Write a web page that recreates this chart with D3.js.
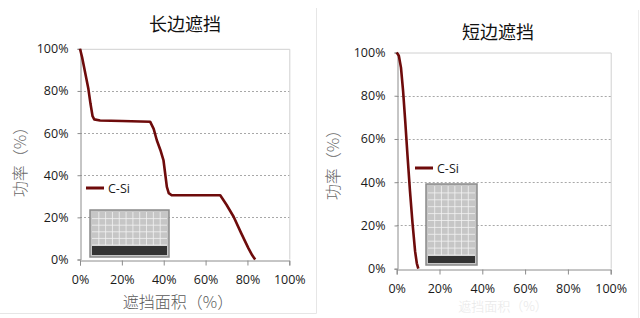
<!DOCTYPE html>
<html>
<head>
<meta charset="utf-8">
<script src="https://cdn.jsdelivr.net/npm/d3@7"></script>
<style>
  body { margin: 0; background: #fff; }
  svg { display: block; }
</style>
</head>
<body>
<svg id="chart" width="640" height="318"></svg>
<script>
// data (x = 遮挡面积 %, y = 功率 %)
var longX = [0, 1, 2, 3, 4, 5, 6, 6.8, 9.6, 20, 33.5, 35.2, 36.7, 38.4, 39.9, 40.8, 41.5, 42.4, 43.8, 55, 67, 70, 73.4, 77, 80.5, 82.3, 83.7]
var longY = [100, 96, 91, 86, 81, 74, 68, 66.5, 66, 65.7, 65.4, 62, 56.6, 52, 47, 40, 34.5, 31.5, 30.5, 30.5, 30.5, 26, 20.3, 12.5, 5.3, 2, 0]
var shortX = [0, 1, 2, 3, 4, 5, 6.2, 7.4, 8.6, 9.4, 10.1]
var shortY = [100, 98.5, 93, 82, 68, 53, 36, 21, 8, 2.5, 0]
var xTicks = [0, 20, 40, 60, 80, 100]
var yTicks = [0, 20, 40, 60, 80, 100]
var titles = ["长边遮挡", "短边遮挡"]
var seriesName = "C-Si"

var svg = d3.select("#chart")

// faint outer frames of the two pasted charts
svg.append("line").attr("x1", 316.5).attr("x2", 316.5).attr("y1", 8).attr("y2", 313.5)
    .attr("stroke", "#e6e6e6")
svg.append("line").attr("x1", 0).attr("x2", 316.5).attr("y1", 313.5).attr("y2", 313.5)
    .attr("stroke", "#e6e6e6")
svg.append("line").attr("x1", 638.5).attr("x2", 638.5).attr("y1", 10).attr("y2", 318)
    .attr("stroke", "#ececec")

function drawChart(opt) {
    var xs = d3.scaleLinear().domain([0, 100]).range([opt.x0, opt.x1])
    var ys = d3.scaleLinear().domain([0, 100]).range([opt.y0, opt.y1])
    var g = svg.append("g")

    // plot frame top/right
    g.append("path")
        .attr("d", "M" + xs(0) + "," + (ys(100) + 0.5) + "H" + (xs(100) + 0.5) + "V" + ys(0))
        .attr("fill", "none").attr("stroke", "#d0d0d0")

    // dotted gridlines
    g.selectAll(".grid").data(yTicks.filter(function (d) { return d > 0 && d < 100 }))
        .enter().append("line")
        .attr("x1", xs(0)).attr("x2", xs(100))
        .attr("y1", function (d) { return Math.round(ys(d)) + 0.5 })
        .attr("y2", function (d) { return Math.round(ys(d)) + 0.5 })
        .attr("stroke", "#a8a8a8").attr("stroke-dasharray", "2,2")

    // axes
    var xAxis = g.append("g")
        .attr("transform", "translate(0," + (Math.round(ys(0)) + 0.5) + ")")
        .call(d3.axisBottom(xs).tickValues(xTicks).tickSize(5).tickPadding(10)
            .tickFormat(function (d) { return d + "%" }))
    var yAxis = g.append("g")
        .attr("transform", "translate(" + (Math.round(xs(0)) + 0.5) + ",0)")
        .call(d3.axisLeft(ys).tickValues(yTicks).tickSize(3).tickPadding(9)
            .tickFormat(function (d) { return d + "%" }))
    ;[xAxis, yAxis].forEach(function (a) {
        a.select(".domain").attr("stroke", "#8c8c8c")
        a.selectAll(".tick line").attr("stroke", "#8c8c8c")
        a.selectAll("text").attr("fill", "#1a1a1a")
            .style("font-family", "'Open Sans', 'Noto Sans', sans-serif").style("font-size", "12.5px")
    })

    // inset panel picture
    var p = opt.panel
    var pg = g.append("g")
    pg.append("rect").attr("x", p.x).attr("y", p.y).attr("width", p.w).attr("height", p.h)
        .attr("fill", "#c6c6c6").attr("stroke", "#8a8a8a").attr("stroke-width", 1.5)
    var cw = (p.w - 4) / p.cols, ch = (p.band - p.y - 2) / p.rows
    d3.range(1, p.cols).forEach(function (i) {
        pg.append("line").attr("x1", p.x + 2 + i * cw).attr("x2", p.x + 2 + i * cw)
            .attr("y1", p.y + 2).attr("y2", p.band).attr("stroke", "#f2f2f2").attr("stroke-width", 0.8)
    })
    d3.range(1, p.rows + 1).forEach(function (i) {
        pg.append("line").attr("x1", p.x + 2).attr("x2", p.x + p.w - 2)
            .attr("y1", p.y + 2 + i * ch).attr("y2", p.y + 2 + i * ch)
            .attr("stroke", "#f2f2f2").attr("stroke-width", 0.8)
    })
    pg.append("rect").attr("x", p.x + 2).attr("y", p.band + 1).attr("width", p.w - 4)
        .attr("height", p.y + p.h - p.band - 3).attr("fill", "#333")

    // series line
    var pts = opt.xv.map(function (v, i) { return [v, opt.yv[i]] })
    g.append("path").datum(pts)
        .attr("fill", "none").attr("stroke", "#6e0b0b").attr("stroke-width", 2.6)
        .attr("stroke-linejoin", "round")
        .attr("d", d3.line().x(function (d) { return xs(d[0]) }).y(function (d) { return ys(d[1]) }))

    // legend
    g.append("line").attr("x1", opt.leg[0]).attr("x2", opt.leg[0] + 18)
        .attr("y1", opt.leg[1]).attr("y2", opt.leg[1])
        .attr("stroke", "#6e0b0b").attr("stroke-width", 3)
    g.append("text").attr("x", opt.leg[0] + 22).attr("y", opt.leg[1] + 4.5)
        .attr("fill", "#1a1a1a").style("font-family", "'Open Sans', sans-serif").style("font-size", "12.5px")
        .text(seriesName)

    // title
    g.append("text").attr("x", opt.title[0]).attr("y", opt.title[1])
        .attr("text-anchor", "middle").attr("fill", "#111")
        .style("font-family", "'Noto Sans CJK SC', sans-serif").style("font-size", "18px")
        .style("font-weight", 400)
        .text(opt.name)

    // axis titles
    g.append("text")
        .attr("transform", "translate(" + opt.ytitle[0] + "," + opt.ytitle[1] + ") rotate(-90)")
        .attr("text-anchor", "middle").attr("dy", "0.35em").attr("fill", "#6a6a6a")
        .style("font-family", "'Noto Sans CJK SC', sans-serif").style("font-size", "16px")
        .style("font-weight", 300)
        .text("功率（%）")
    g.append("text").attr("x", opt.xtitle[0]).attr("y", opt.xtitle[1])
        .attr("text-anchor", "middle").attr("fill", opt.xtitleColor)
        .style("font-family", "'Noto Sans CJK SC', sans-serif").style("font-size", opt.xtitleSize)
        .style("font-weight", 300)
        .text("遮挡面积（%）")
}

drawChart({
    name: titles[0], xv: longX, yv: longY,
    x0: 80, x1: 289.3, y0: 259.5, y1: 48.8,
    panel: { x: 90, y: 210, w: 79, h: 47, cols: 11, rows: 5, band: 245 },
    leg: [86, 188], title: [185, 31], ytitle: [20, 158], xtitle: [178, 308],
    xtitleColor: "#5a5a5a", xtitleSize: "16px"
})
drawChart({
    name: titles[1], xv: shortX, yv: shortY,
    x0: 396.7, x1: 610.7, y0: 268.7, y1: 52.5,
    panel: { x: 426, y: 184, w: 51, h: 81, cols: 7, rows: 10, band: 255 },
    leg: [415, 168], title: [498, 39], ytitle: [333, 161], xtitle: [503, 311],
    xtitleColor: "#e8e8e8", xtitleSize: "13px"
})
</script>
</body>
</html>
